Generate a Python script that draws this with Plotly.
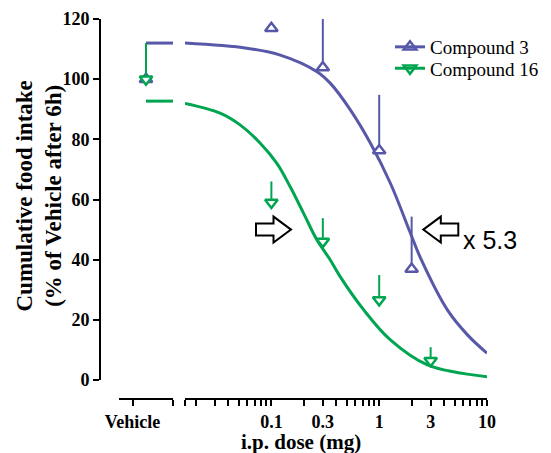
import math
import plotly.graph_objects as go

# ---------------- data ----------------
vehicle_label = ["Vehicle"]
vehicle_pos = [0.5]

c3_name = "Compound 3"
c3_vehicle_val = [100]
c3_vehicle_err = [0]
c3_dose = [0.1, 0.3, 1, 2]
c3_val = [116.9, 103.9, 76.3, 36.9]
c3_err = [0, 20, 18.5, 17.4]
c3_top = 112.0
c3_fit_dose = [0.0158, 0.059, 0.121, 0.265, 0.353, 0.54, 0.83, 1.27, 1.95, 2.42, 4.29, 6.59, 10]
c3_fit_val = [112.0, 110.3, 108.0, 102.5, 98.6, 89.8, 78.7, 65.4, 48.8, 40.5, 23.3, 15.0, 8.9]

c16_name = "Compound 16"
c16_vehicle_val = [100]
c16_vehicle_err = [12]
c16_dose = [0.1, 0.3, 1, 3]
c16_val = [59.0, 46.0, 26.6, 6.4]
c16_err = [7, 7.8, 8.3, 4.5]
c16_top = 92.7
c16_fit_dose = [0.0158, 0.0334, 0.0512, 0.0788, 0.1125, 0.149, 0.199, 0.265, 0.352,
                0.436, 0.719, 1.27, 2.8, 10]
c16_fit_val = [91.9, 88.7, 84.8, 78.7, 72.0, 64.3, 55.4, 46.5, 39.9,
               34.3, 23.3, 13.3, 5.0, 1.1]

y_ticks = [0, 20, 40, 60, 80, 100, 120]
dose_ticks = [0.0158, 0.02, 0.03, 0.04, 0.05, 0.06, 0.07, 0.08, 0.09,
              0.1, 0.2, 0.3, 0.4, 0.5, 0.6, 0.7, 0.8, 0.9,
              1, 2, 3, 4, 5, 6, 7, 8, 9, 10]
dose_labels = {0.1: "0.1", 0.3: "0.3", 1: "1", 3: "3", 10: "10"}
shift_label = "x 5.3"

# ---------------- style ----------------
BLUE = "#5858A9"
GREEN = "#00A551"
SERIF = "Liberation Serif"
W, H = 551, 453
ML, MR, MT, MB = 100, 64, 19, 54
PH = H - MT - MB

def px_x(p):
    return (p - ML) / (W - ML - MR)

def px_y(p):
    return (H - MB - p) / PH

fig = go.Figure()

# fitted curves (vehicle segment then dose segment)
for top, fd, fv, col in [(c3_top, c3_fit_dose, c3_fit_val, BLUE),
                         (c16_top, c16_fit_dose, c16_fit_val, GREEN)]:
    fig.add_trace(go.Scatter(x=[vehicle_pos[0], 1], y=[top, top], xaxis="x", yaxis="y",
                             mode="lines", line=dict(color=col, width=3),
                             showlegend=False, hoverinfo="skip"))
    fig.add_trace(go.Scatter(x=fd, y=fv, xaxis="x2", yaxis="y", mode="lines",
                             line=dict(color=col, width=3, shape="spline", smoothing=1.0),
                             showlegend=False, hoverinfo="skip"))

# data points with upward error bars
for name, vv, ve, d, v, e, col, sym, lg in [
        (c3_name, c3_vehicle_val, c3_vehicle_err, c3_dose, c3_val, c3_err, BLUE, "triangle-up", "legend"),
        (c16_name, c16_vehicle_val, c16_vehicle_err, c16_dose, c16_val, c16_err, GREEN, "triangle-down", "legend2")]:
    mk = dict(symbol=sym, size=11, color="white", line=dict(color=col, width=2.5))
    eb_v = dict(type="data", symmetric=False, array=ve, arrayminus=[0] * len(ve),
                color=col, thickness=2, width=0)
    eb = dict(type="data", symmetric=False, array=e, arrayminus=[0] * len(e),
              color=col, thickness=2, width=0)
    fig.add_trace(go.Scatter(x=vehicle_pos, y=vv, xaxis="x", yaxis="y", mode="markers",
                             marker=mk, error_y=eb_v, cliponaxis=False, showlegend=False))
    fig.add_trace(go.Scatter(x=d, y=v, xaxis="x2", yaxis="y", mode="markers",
                             marker=mk, error_y=eb, cliponaxis=False, showlegend=False))
    # legend entry
    fig.add_trace(go.Scatter(x=[None], y=[None], xaxis="x2", yaxis="y", mode="lines+markers",
                             name=name, legend=lg, line=dict(color=col, width=3),
                             marker=dict(symbol=sym + "-open", size=11,
                                         line=dict(color=col, width=2.5))))

tickfont = dict(family=SERIF, size=18, color="black", weight="bold")
axis_common = dict(showline=True, linecolor="black", linewidth=2, showgrid=False, zeroline=False,
                   ticks="outside", ticklen=6, tickwidth=2, tickcolor="black",
                   tickfont=tickfont, automargin=False, anchor="free", position=0)
legend_common = dict(xref="container", yref="container", xanchor="left", yanchor="middle",
                     font=dict(family=SERIF, size=19, color="black"),
                     bgcolor="rgba(0,0,0,0)", borderwidth=0)

fig.update_layout(
    width=W, height=H,
    margin=dict(l=ML, r=MR, t=MT, b=MB, autoexpand=False),
    paper_bgcolor="white", plot_bgcolor="white",
    xaxis=dict(domain=[px_x(119), px_x(173)], range=[0, 1],
               tickvals=[0.25, 1], ticktext=[vehicle_label[0], ""], **axis_common),
    xaxis2=dict(domain=[px_x(185), 1], type="log",
                range=[math.log10(dose_ticks[0]), math.log10(dose_ticks[-1])],
                tickvals=dose_ticks, ticktext=[dose_labels.get(t, "") for t in dose_ticks],
                **axis_common),
    yaxis=dict(domain=[px_y(380), 1], range=[0, 120], tickvals=y_ticks, **axis_common),
    legend=dict(x=390 / W, y=1 - 47 / H, **legend_common),
    legend2=dict(x=390 / W, y=1 - 68.5 / H, **legend_common),
    showlegend=True,
)

# axis titles
fig.add_annotation(text="Cumulative food intake<br>(% of Vehicle after 6h)", textangle=-90,
                   xref="paper", yref="y", x=px_x(39), y=61, xanchor="center", yanchor="middle",
                   showarrow=False, font=dict(family=SERIF, size=23, color="black", weight="bold"))
fig.add_annotation(text="i.p. dose (mg)", xref="paper", yref="paper",
                   x=px_x(301), y=px_y(442), xanchor="center", yanchor="middle",
                   showarrow=False, font=dict(family=SERIF, size=21, color="black", weight="bold"))

# block arrows indicating the shift
right_arrow = "M-17.5,-6 L0,-6 L0,-13 L17.5,0 L0,13 L0,6 L-17.5,6 Z"
left_arrow = "M17.5,-6 L0,-6 L0,-13 L-17.5,0 L0,13 L0,6 L17.5,6 Z"
for path, cx in [(right_arrow, 273.5), (left_arrow, 440.8)]:
    fig.add_shape(type="path", path=path, xref="paper", yref="y",
                  xsizemode="pixel", ysizemode="pixel", xanchor=px_x(cx), yanchor=50,
                  line=dict(color="black", width=2), fillcolor="white")
fig.add_annotation(text=shift_label, xref="paper", yref="y", x=px_x(461), y=46.5,
                   xanchor="left", yanchor="middle", showarrow=False,
                   font=dict(family="Liberation Sans", size=25, color="black"))

fig.write_html("out.html", config={"displayModeBar": False},
               post_script="document.body.style.margin='0';")
